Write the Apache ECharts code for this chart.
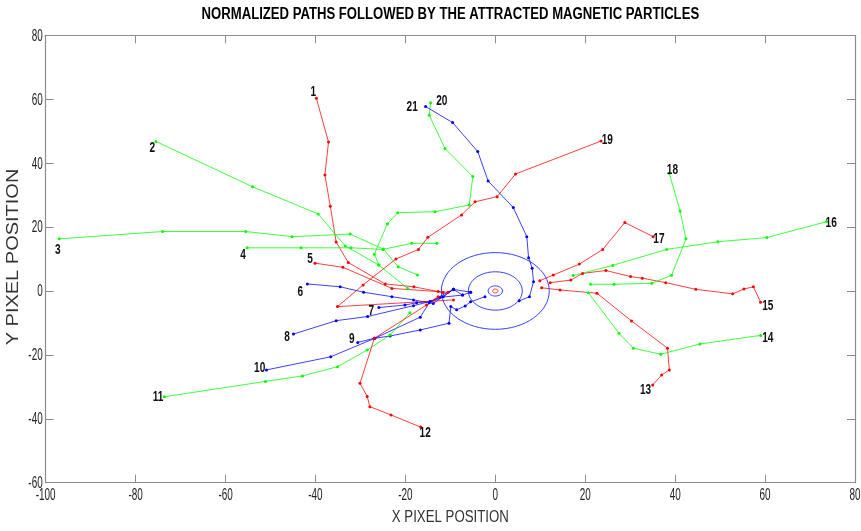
<!DOCTYPE html>
<html><head><meta charset="utf-8">
<script src="https://cdn.jsdelivr.net/npm/echarts@6/dist/echarts.min.js"></script>
<style>html,body{margin:0;padding:0;background:#fff}#c{width:861px;height:531px}</style>
</head><body><div id="c"></div>
<script>
// ---- data ----
const path1  = [[-39.8,60.3],[-37.1,46.6],[-37.9,36.3],[-36.7,26.5],[-35.4,15.3],[-32.7,8.9],[-24.5,2.2],[-18.1,1.3],[-11.6,-0.5]];
const path2  = [[-75.5,46.8],[-54.0,32.6],[-39.4,24.1],[-33.4,14.1],[-25.9,8.1],[-19.5,0.8]];
const path3  = [[-97.0,16.3],[-74.0,18.6],[-55.5,18.6],[-45.2,17.0],[-32.3,17.8],[-24.9,13.1],[-21.6,7.6],[-17.3,5.0]];
const path4  = [[-55.2,13.5],[-43.2,13.5],[-32.1,13.5],[-25.0,13.0],[-18.6,14.9],[-13.0,14.9]];
const path5  = [[-40.1,8.7],[-33.9,7.4],[-23.0,0.8],[-12.7,-0.2],[-10.5,-0.4]];
const path6  = [[-41.8,2.2],[-34.5,1.3],[-29.3,-0.4],[-23.0,-1.8],[-18.2,-2.8],[-13.8,-3.9],[-9.3,0.5],[-5.5,-0.4]];
const path7  = [[-25.9,-5.2],[-20.1,-4.4],[-17.5,-3.7],[-14.5,-3.3],[-12.3,-2.0],[-7.3,-1.3],[-5.5,-0.4]];
const path8  = [[-44.9,-13.5],[-35.4,-9.3],[-28.4,-8.0],[-18.2,-4.6],[-14.5,-3.3],[-9.3,0.5],[-7.3,-1.3]];
const path9  = [[-30.6,-16.1],[-26.9,-14.8],[-23.4,-14.1],[-16.7,-12.2],[-10.3,-10.1],[-9.9,-4.9],[-8.6,-5.9],[-6.7,-4.7],[-5.5,-3.4],[-2.3,-1.8]];
const path10 = [[-50.9,-24.7],[-36.6,-20.6],[-26.8,-14.8],[-16.7,-8.2],[-14.7,-3.7],[-11.6,-1.8],[-9.3,0.5]];
const path11 = [[-73.6,-33.1],[-51.1,-28.3],[-42.9,-26.6],[-35.1,-23.7],[-28.5,-18.5],[-23.4,-13.8],[-19.0,-6.8]];
const path12 = [[-16.6,-42.6],[-23.2,-38.8],[-27.9,-36.2],[-28.5,-33.0],[-30.1,-28.9],[-26.9,-14.8],[-15.3,-4.4],[-12.7,-1.8]];
const path13 = [[35.0,-29.4],[37.0,-26.3],[38.7,-24.7],[38.3,-17.9],[30.3,-9.4],[22.6,-0.7],[14.4,0.3],[10.3,1.0]];
const path14 = [[59.0,-13.9],[45.5,-16.6],[36.8,-19.8],[30.7,-17.9],[27.5,-13.2],[20.7,-0.6]];
const path15 = [[59.0,-3.5],[57.4,1.3],[55.3,0.6],[52.8,-0.9],[44.6,0.5],[37.9,2.6],[32.7,4.0],[30.1,4.5],[24.6,6.4],[19.4,5.5],[16.8,3.4],[12.2,2.6]];
const path16 = [[73.7,21.7],[60.4,16.7],[49.5,15.4],[38.1,13.0],[26.1,8.0],[17.3,4.8]];
const path17 = [[35.1,17.0],[28.8,21.4],[23.9,13.0],[18.7,8.4],[12.9,5.0],[9.9,3.2]];
const path18 = [[38.7,36.8],[41.1,25.0],[42.4,16.3],[39.2,4.9],[34.8,2.4],[26.4,2.1],[21.2,2.1]];
const path19 = [[23.5,46.9],[4.5,36.6],[0.4,29.5],[-4.5,27.9],[-7.5,23.8],[-15.0,16.8],[-17.1,13.0],[-22.1,10.0],[-29.4,1.9],[-35.1,-4.9],[-9.3,-2.8]];
const path20 = [[-14.4,58.9],[-14.7,55.0],[-11.2,44.6],[-5.0,35.8],[-5.8,26.9],[-13.4,24.8],[-21.7,24.5],[-24.0,21.0],[-26.9,11.5],[-25.9,8.1]];
const path21 = [[-15.5,57.7],[-9.5,52.7],[-3.9,43.6],[-1.6,34.4],[4.0,26.1],[7.0,17.0],[7.4,10.4],[8.2,7.1],[8.5,2.9],[7.6,-1.8],[5.3,-3.1]];

const pathNames = ['1','2','3','4','5','6','7','8','9','10','11','12','13','14','15','16','17','18','19','20','21'];
const paths = [path1,path2,path3,path4,path5,path6,path7,path8,path9,path10,path11,path12,path13,path14,path15,path16,path17,path18,path19,path20,path21];
const pathGroup = ['r','g','g','g','r','b','b','b','b','b','g','r','r','g','r','g','r','g','r','g','b'];

// where each path number is written (data units)
const labelPoints = [[-40.5,62.3,'1'],[-76.3,44.7,'2'],[-97.3,12.8,'3'],[-56.1,11.3,'4'],[-41.2,9.9,'5'],
  [-43.4,-0.3,'6'],[-27.6,-6.2,'7'],[-46.3,-14.5,'8'],[-31.9,-15.0,'9'],[-52.4,-24.3,'10'],[-75.0,-33.2,'11'],
  [-15.6,-44.4,'12'],[33.4,-31.0,'13'],[60.6,-14.8,'14'],[60.6,-4.9,'15'],[74.7,21.3,'16'],[36.4,16.3,'17'],
  [39.4,37.9,'18'],[24.9,47.2,'19'],[-11.9,59.5,'20'],[-18.5,57.6,'21']];

// magnet field rings (radius, data units), centered at origin
const ringRadii = [12, 6, 1.6];
const coreRadius = [0.6];

const xTickLabels = [-100,-80,-60,-40,-20,0,20,40,60,80];
const yTickLabels = [-60,-40,-20,0,20,40,60,80];
const titleText = 'NORMALIZED PATHS FOLLOWED BY THE ATTRACTED MAGNETIC PARTICLES';
const xName = 'X PIXEL POSITION';
const yName = 'Y PIXEL POSITION';

// ---- chart ----
const colorMap = {r:'#ff0000', g:'#00ff00', b:'#0000ff'};
const FONT = '"Liberation Sans",Arial,sans-serif';
const chart = echarts.init(document.getElementById('c'), null, {renderer:'canvas'});

const series = [];
ringRadii.forEach(r => series.push({
  type:'custom', silent:true, z:1, data:[[0,0,r]],
  renderItem:(params, api) => {
    const c = api.coord([api.value(0), api.value(1)]);
    const s = api.size([api.value(2), api.value(2)]);
    return {type:'ellipse', shape:{cx:c[0], cy:c[1], rx:s[0], ry:s[1]},
      style:{fill:null, stroke:'#3344ff', lineWidth:1}};
  }
}));
coreRadius.forEach(r => series.push({
  type:'custom', silent:true, z:1, data:[[0,0,r]],
  renderItem:(params, api) => {
    const c = api.coord([api.value(0), api.value(1)]);
    const s = api.size([api.value(2), api.value(2)]);
    return {type:'ellipse', shape:{cx:c[0], cy:c[1], rx:s[0], ry:s[1]},
      style:{fill:null, stroke:'#ff3333', lineWidth:1}};
  }
}));
paths.forEach((p, i) => series.push({
  type:'line', name:pathNames[i], data:p, z:2,
  symbol:'circle', symbolSize:3, showSymbol:true, animation:false,
  lineStyle:{width:1, color:colorMap[pathGroup[i]], opacity:0.75},
  itemStyle:{color:colorMap[pathGroup[i]]}
}));

const AX = '#8c8c8c';
const axisCommon = {
  type:'value', splitLine:{show:false}, axisLabel:{show:false},
  axisLine:{show:true, onZero:false, lineStyle:{color:AX, width:1.2}},
  axisTick:{show:true, inside:true, length:8, lineStyle:{color:AX}}
};
chart.setOption({
  animation:false,
  backgroundColor:'#fff',
  grid:{left:45.7, right:6, top:35.3, bottom:48.3, containLabel:false, outerBoundsMode:'none'},
  xAxis:[
    Object.assign({}, axisCommon, {position:'bottom', min:-100, max:80, interval:20}),
    Object.assign({}, axisCommon, {position:'top', min:-100, max:80, interval:20})
  ],
  yAxis:[
    Object.assign({}, axisCommon, {position:'left', min:-60, max:80, interval:20}),
    Object.assign({}, axisCommon, {position:'right', min:-60, max:80, interval:20})
  ],
  series:series
});

// condensed-looking text drawn through the chart's own coordinate conversion
const graphics = [];
function txt(x, y, text, size, weight, color, align, vAlign, sx, sy, rot) {
  graphics.push({type:'text', x:x, y:y, scaleX:sx||1, scaleY:sy||1, rotation:rot||0, silent:true, z:100,
    style:{text:text, font:(weight||'normal')+' '+size+'px '+FONT, fill:color, align:align, verticalAlign:vAlign}});
}
const grid0 = {gridIndex:0};
xTickLabels.forEach(v => {
  const p = chart.convertToPixel(grid0, [v, -60]);
  txt(p[0], p[1] + 12.5, String(v), 16, 'normal', '#222', 'center', 'middle', 0.62);
});
yTickLabels.forEach(v => {
  const p = chart.convertToPixel(grid0, [-100, v]);
  txt(p[0] - 3, p[1] + 1, String(v), 16, 'normal', '#222', 'right', 'middle', 0.62);
});
labelPoints.forEach(l => {
  const p = chart.convertToPixel(grid0, [l[0], l[1]]);
  txt(p[0], p[1], l[2], 14, 'bold', '#111', 'center', 'middle', 0.72);
});
const topMid = chart.convertToPixel(grid0, [-10, 80]);
txt(topMid[0], 15, titleText, 16, 'bold', '#000', 'center', 'middle', 0.82);
const botMid = chart.convertToPixel(grid0, [-10, -60]);
txt(botMid[0], botMid[1] + 35, xName, 17, 'normal', '#333', 'center', 'middle', 0.78);
const leftMid = chart.convertToPixel(grid0, [-100, 10]);
txt(14, leftMid[1] - 2, yName, 20, 'normal', '#333', 'center', 'middle', 1, 0.8, Math.PI/2);
chart.setOption({graphic: graphics});
</script></body></html>
